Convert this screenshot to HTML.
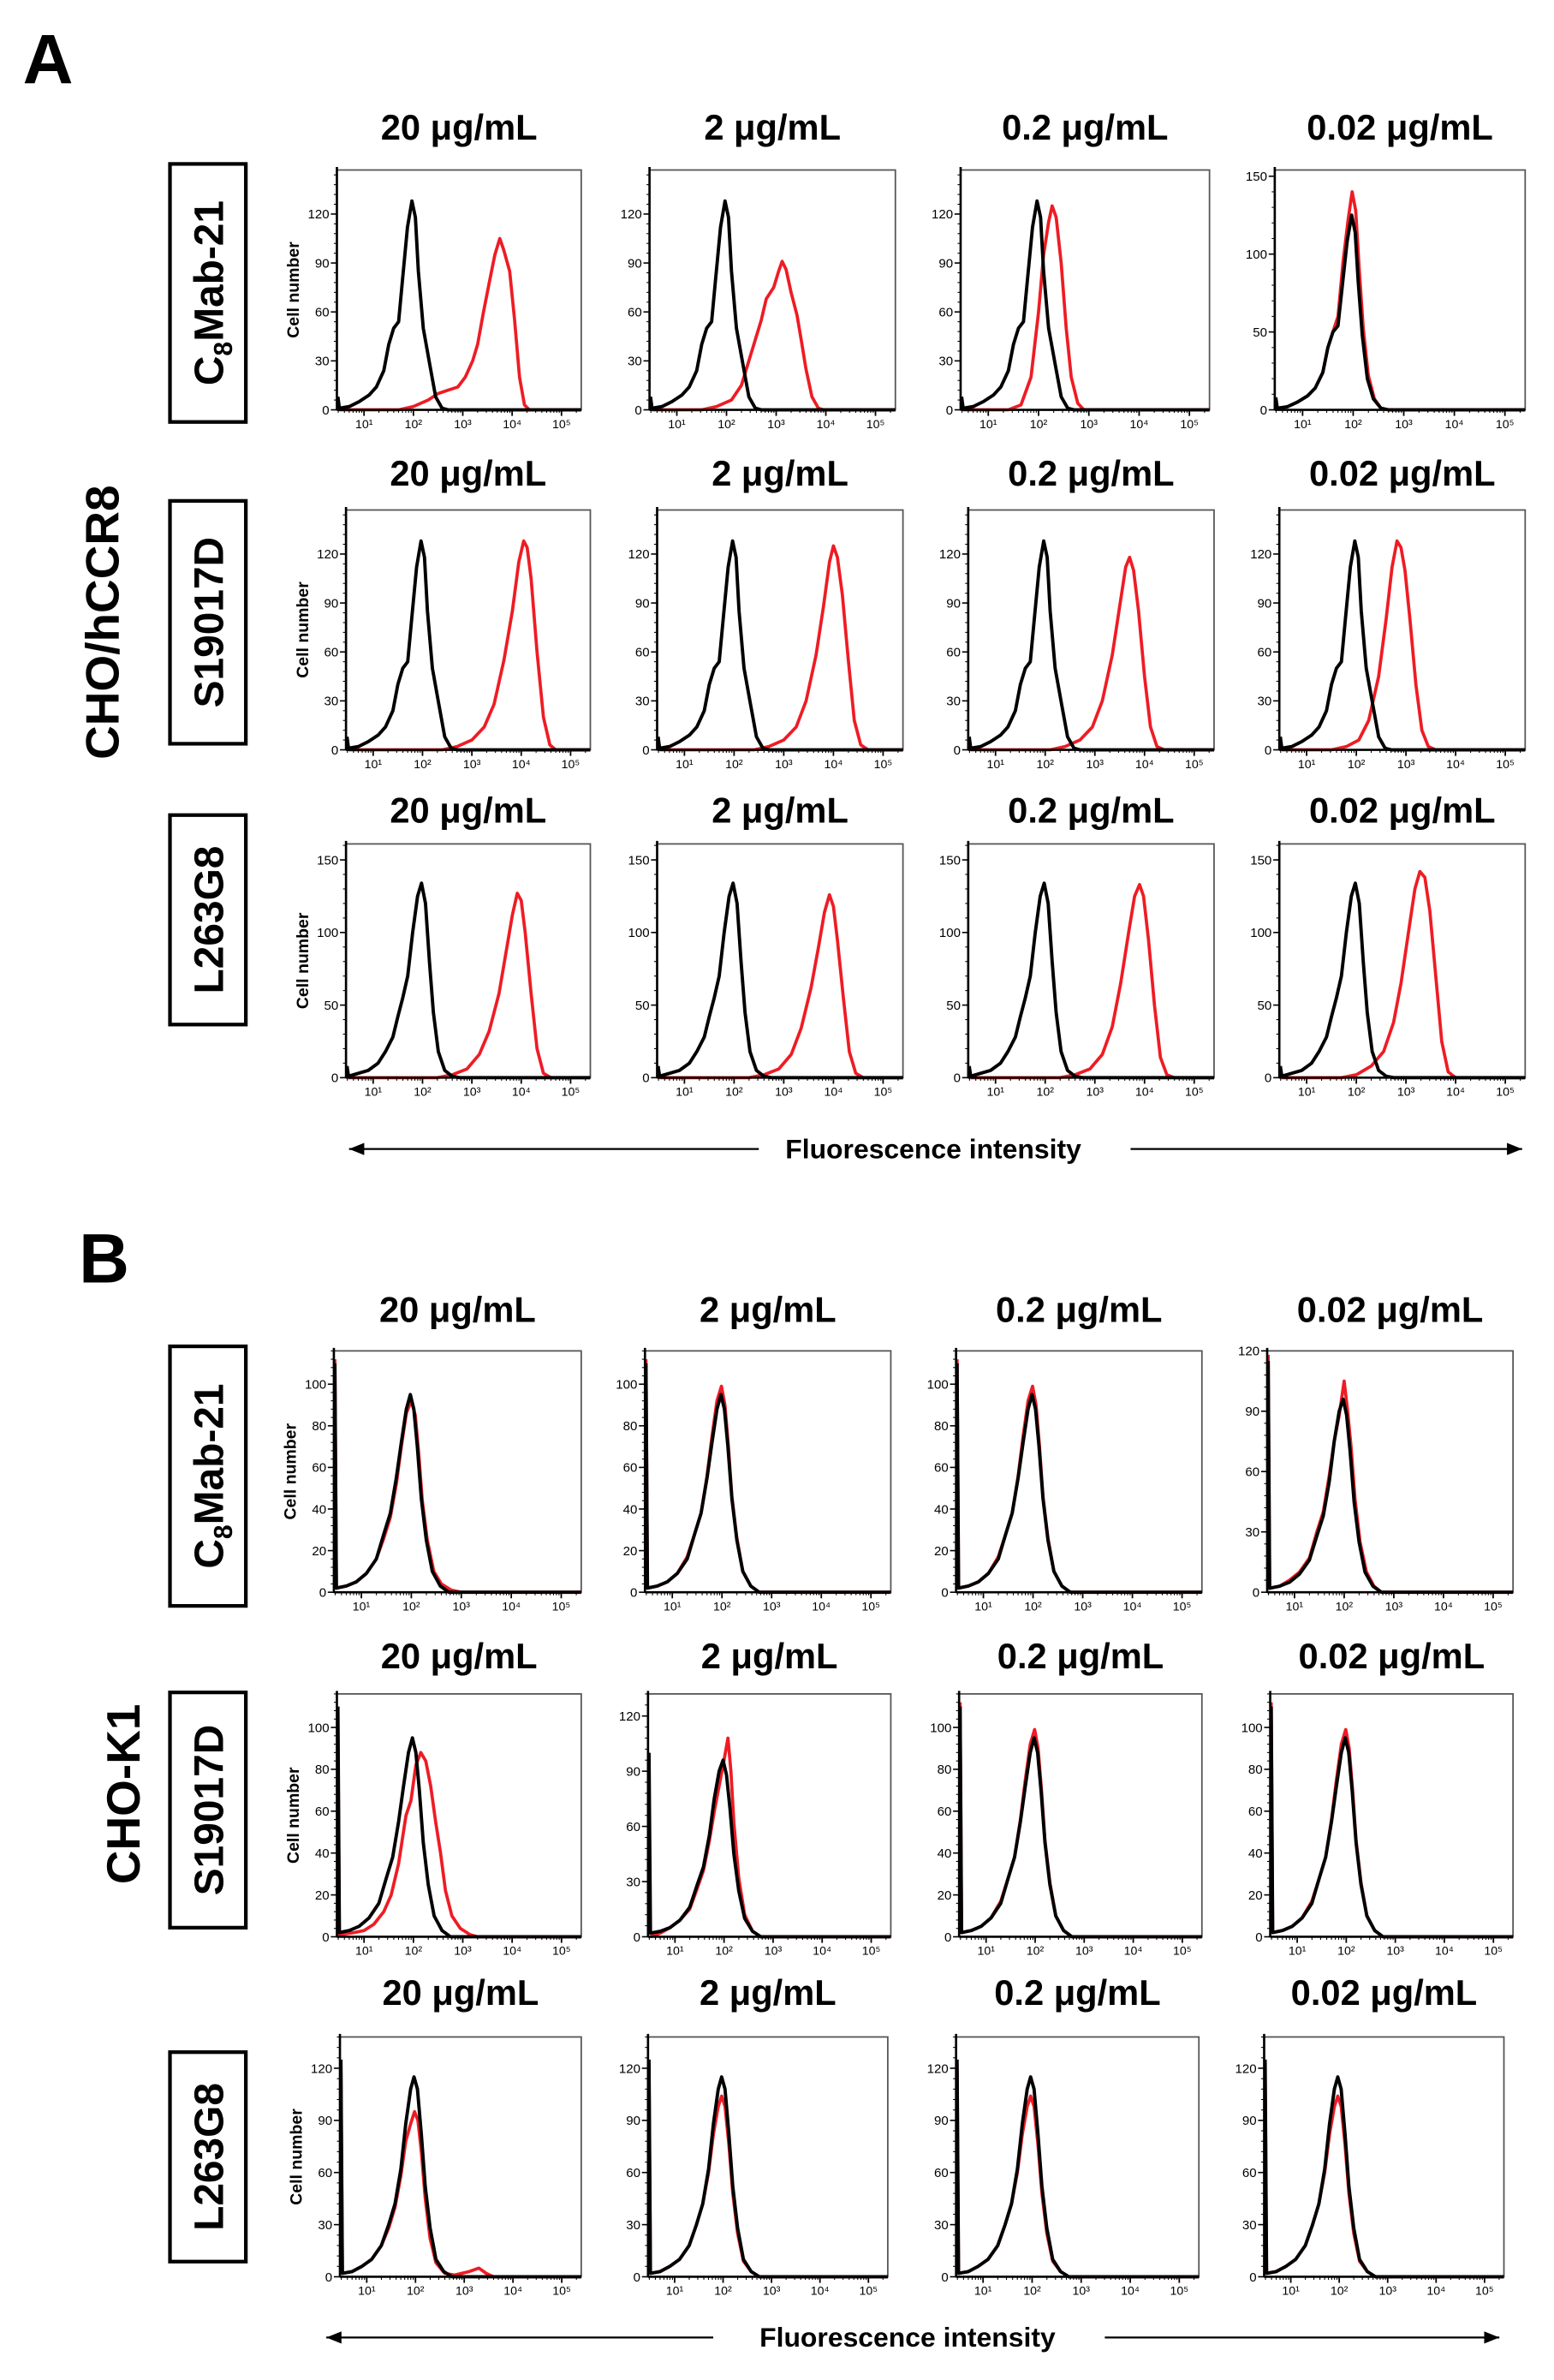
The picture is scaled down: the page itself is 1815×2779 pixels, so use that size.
<!DOCTYPE html>
<html><head><meta charset="utf-8">
<style>
html,body{margin:0;padding:0;background:#fff;}
svg{display:block;}
text{font-family:"Liberation Sans",Arial,sans-serif;}
</style></head>
<body>
<svg id="fig" width="1815" height="2779" viewBox="0 0 1024 1568" preserveAspectRatio="none" xmlns="http://www.w3.org/2000/svg">
<g id="static">
<text x="15" y="55" font-size="46" font-weight="bold">A</text>
<text x="52" y="845" font-size="46" font-weight="bold">B</text>
<text transform="translate(78,410) rotate(-90)" text-anchor="middle" font-size="31" font-weight="bold">CHO/hCCR8</text>
<text transform="translate(92,1182) rotate(-90)" text-anchor="middle" font-size="31" font-weight="bold">CHO-K1</text>
</g>
<g id="plots"></g>
</svg>
<script>
// ---- data (log10 fluorescence, cell count) ----
const xTickVals = [1, 2, 3, 4, 5];
const xTickLabels = ["10\u00B9", "10\u00B2", "10\u00B3", "10\u2074", "10\u2075"];
const titles = ["20 \u03BCg/mL", "2 \u03BCg/mL", "0.2 \u03BCg/mL", "0.02 \u03BCg/mL"];
const rowAntibodies = ["C8Mab-21", "S19017D", "L263G8"];

const ctrlA = [[0.47,8],[0.5,1],[0.7,2],[0.9,5],[1.1,9],[1.25,14],[1.4,24],[1.5,40],[1.6,50],[1.7,54],[1.78,80],[1.88,112],[1.97,128],[2.04,118],[2.1,85],[2.2,50],[2.33,28],[2.45,8],[2.58,1],[2.7,0],[5.4,0]];
const ctrlA4 = [[0.47,8],[0.5,1],[0.7,2],[0.9,5],[1.1,9],[1.25,14],[1.4,24],[1.5,40],[1.6,50],[1.7,54],[1.78,78],[1.88,108],[1.97,125],[2.04,114],[2.1,82],[2.18,48],[2.28,20],[2.4,7],[2.55,1],[2.7,0],[5.4,0]];
const ctrlA3 = [[0.47,8],[0.5,1],[0.7,3],[0.9,5],[1.1,10],[1.25,18],[1.4,28],[1.5,42],[1.6,55],[1.7,70],[1.8,100],[1.9,125],[1.98,134],[2.06,120],[2.14,80],[2.22,45],[2.32,18],[2.45,5],[2.6,1],[2.75,0],[5.4,0]];
const redA11 = [[0.5,0],[1.7,0],[2.0,2],[2.3,6],[2.5,10],[2.7,12],[2.9,14],[3.05,20],[3.2,30],[3.3,40],[3.42,60],[3.55,80],[3.65,95],[3.75,105],[3.83,98],[3.95,85],[4.05,55],[4.15,20],[4.25,3],[4.35,0],[5.4,0]];
const redA12 = [[0.5,0],[1.5,0],[1.8,2],[2.1,6],[2.3,15],[2.45,30],[2.55,40],[2.7,55],[2.8,68],[2.95,75],[3.05,85],[3.12,91],[3.2,86],[3.3,72],[3.42,58],[3.52,40],[3.6,25],[3.72,8],[3.85,1],[3.95,0],[5.4,0]];
const redA13 = [[0.5,0],[1.4,0],[1.65,3],[1.85,20],[2.0,60],[2.1,95],[2.2,115],[2.27,125],[2.35,118],[2.45,90],[2.55,50],[2.65,20],[2.78,4],[2.9,0],[5.4,0]];
const redA14 = [[0.47,6],[0.5,1],[0.7,2],[0.9,5],[1.1,9],[1.25,14],[1.4,24],[1.5,40],[1.6,50],[1.7,60],[1.8,95],[1.9,122],[1.98,140],[2.05,128],[2.12,90],[2.2,52],[2.3,22],[2.42,7],[2.55,1],[2.7,0],[5.4,0]];
const redA21 = [[0.5,0],[2.4,0],[2.7,2],[3.0,6],[3.25,14],[3.45,28],[3.65,55],[3.82,85],[3.95,115],[4.05,128],[4.12,124],[4.2,105],[4.32,60],[4.45,20],[4.58,3],[4.7,0],[5.4,0]];
const redA22 = [[0.5,0],[2.4,0],[2.7,2],[3.0,6],[3.25,14],[3.45,30],[3.65,58],[3.8,88],[3.92,115],[4.0,125],[4.08,118],[4.18,95],[4.3,55],[4.42,18],[4.55,3],[4.7,0],[5.4,0]];
const redA23 = [[0.5,0],[2.1,0],[2.4,2],[2.7,6],[2.95,14],[3.15,30],[3.35,58],[3.5,88],[3.62,112],[3.7,118],[3.78,110],[3.88,85],[4.0,45],[4.12,14],[4.25,2],[4.4,0],[5.4,0]];
const redA24 = [[0.5,0],[1.5,0],[1.8,2],[2.05,6],[2.25,18],[2.45,45],[2.6,80],[2.72,112],[2.82,128],[2.9,124],[2.98,110],[3.08,80],[3.2,40],[3.32,12],[3.45,2],[3.6,0],[5.4,0]];
const redA31 = [[0.5,0],[2.3,0],[2.6,2],[2.9,6],[3.15,16],[3.35,32],[3.55,58],[3.7,88],[3.82,112],[3.92,127],[4.0,122],[4.08,100],[4.2,58],[4.32,20],[4.45,3],[4.6,0],[5.4,0]];
const redA32 = [[0.5,0],[2.3,0],[2.6,2],[2.9,6],[3.15,16],[3.35,34],[3.55,62],[3.7,90],[3.82,114],[3.92,126],[4.0,118],[4.08,95],[4.2,55],[4.32,18],[4.45,3],[4.6,0],[5.4,0]];
const redA33 = [[0.5,0],[2.3,0],[2.6,2],[2.9,6],[3.15,16],[3.35,35],[3.52,65],[3.68,100],[3.8,125],[3.9,133],[3.98,125],[4.08,95],[4.2,50],[4.32,14],[4.45,2],[4.6,0],[5.4,0]];
const redA34 = [[0.5,0],[1.7,0],[2.0,2],[2.3,8],[2.55,18],[2.75,38],[2.9,65],[3.05,100],[3.18,130],[3.28,142],[3.38,138],[3.48,115],[3.6,70],[3.72,25],[3.85,4],[4.0,0],[5.4,0]];

const ctrlB = [[0.47,110],[0.5,2],[0.7,3],[0.9,5],[1.1,9],[1.3,16],[1.45,28],[1.58,38],[1.7,55],[1.8,72],[1.9,88],[1.98,95],[2.05,88],[2.12,70],[2.2,45],[2.3,25],[2.42,10],[2.58,3],[2.75,0],[5.4,0]];
const redB11 = [[0.47,112],[0.5,2],[0.7,3],[0.9,5],[1.1,9],[1.3,16],[1.45,26],[1.58,36],[1.7,52],[1.8,70],[1.9,86],[2.0,92],[2.08,85],[2.15,66],[2.22,44],[2.32,25],[2.45,10],[2.6,4],[2.8,1],[3.0,0],[5.4,0]];
const redB1b = [[0.47,112],[0.5,2],[0.7,3],[0.9,5],[1.1,9],[1.3,17],[1.45,28],[1.58,38],[1.7,56],[1.8,75],[1.9,92],[1.99,99],[2.06,90],[2.13,70],[2.2,46],[2.3,26],[2.42,10],[2.58,3],[2.75,0],[5.4,0]];
const ctrlB14 = [[0.47,115],[0.5,2],[0.7,3],[0.9,5],[1.1,9],[1.3,16],[1.45,28],[1.58,38],[1.7,55],[1.8,75],[1.9,90],[1.98,96],[2.05,88],[2.12,70],[2.2,45],[2.3,25],[2.42,10],[2.58,3],[2.75,0],[5.4,0]];
const redB14 = [[0.47,118],[0.5,2],[0.7,3],[0.9,6],[1.1,10],[1.3,17],[1.45,30],[1.58,40],[1.7,58],[1.8,75],[1.9,88],[2.0,105],[2.07,90],[2.14,72],[2.22,46],[2.32,25],[2.45,10],[2.6,3],[2.75,0],[5.4,0]];
const redB21 = [[0.47,100],[0.5,1],[0.8,2],[1.0,3],[1.2,6],[1.4,12],[1.55,20],[1.7,35],[1.85,58],[1.95,65],[2.05,82],[2.15,88],[2.25,84],[2.35,72],[2.45,55],[2.55,40],[2.65,22],[2.78,10],[2.95,4],[3.15,1],[3.3,0],[5.4,0]];
const ctrlB22 = [[0.47,100],[0.5,2],[0.7,3],[0.9,5],[1.1,9],[1.3,16],[1.45,28],[1.58,38],[1.7,55],[1.8,75],[1.9,90],[1.98,96],[2.05,88],[2.12,70],[2.2,45],[2.3,25],[2.42,10],[2.58,3],[2.75,0],[5.4,0]];
const redB22 = [[0.5,0],[0.7,2],[0.9,5],[1.1,9],[1.3,15],[1.45,26],[1.58,36],[1.7,52],[1.8,68],[1.9,82],[2.0,96],[2.08,108],[2.14,90],[2.2,62],[2.3,32],[2.42,12],[2.58,3],[2.75,0],[5.4,0]];
const ctrlB3 = [[0.47,125],[0.5,2],[0.7,3],[0.9,6],[1.1,10],[1.3,18],[1.45,30],[1.58,42],[1.7,62],[1.8,88],[1.9,108],[1.97,115],[2.04,108],[2.12,82],[2.2,52],[2.3,28],[2.42,10],[2.58,3],[2.75,0],[5.4,0]];
const redB31 = [[0.47,120],[0.5,2],[0.7,3],[0.9,6],[1.1,10],[1.3,18],[1.45,28],[1.58,40],[1.7,58],[1.8,78],[1.9,88],[1.98,95],[2.05,90],[2.12,72],[2.2,45],[2.3,22],[2.42,8],[2.6,2],[2.8,1],[3.1,3],[3.3,5],[3.45,2],[3.6,0],[5.4,0]];
const redB3 = [[0.47,120],[0.5,2],[0.7,3],[0.9,6],[1.1,10],[1.3,18],[1.45,30],[1.58,42],[1.7,60],[1.8,82],[1.9,98],[1.97,104],[2.04,98],[2.12,76],[2.2,48],[2.3,25],[2.42,9],[2.58,3],[2.75,0],[5.4,0]];

const yTicks120 = [0, 30, 60, 90, 120];
const yTicks150 = [0, 50, 100, 150];
const yTicks100 = [0, 20, 40, 60, 80, 100];

// ---- layout (geometry only) ----
const X_MIN = 0.45, X_MAX = 5.4;
const layoutRows = [
  {top:112, bot:270, titleY:92, cols:[[222,383],[428,590],[633,797],[840,1005]], box:[112,108,50,170], label:"C8Mab-21"},
  {top:336, bot:494, titleY:320, cols:[[228,389],[433,595],[638,800],[843,1005]], box:[112,330,50,160], label:"S19017D"},
  {top:556, bot:710, titleY:542, cols:[[228,389],[433,595],[638,800],[843,1005]], box:[112,537,50,138], label:"L263G8"},
  {top:890, bot:1049, titleY:871, cols:[[220,383],[425,587],[630,792],[835,997]], box:[112,887,50,171], label:"C8Mab-21"},
  {top:1116, bot:1276, titleY:1099, cols:[[222,383],[427,587],[632,792],[837,997]], box:[112,1115,50,155], label:"S19017D"},
  {top:1342, bot:1500, titleY:1321, cols:[[224,383],[427,585],[630,790],[833,991]], box:[112,1352,50,138], label:"L263G8"}
];
const panelYMax = [[147,147,147,154],[147,147,147,147],[161,161,161,161],[116,116,116,120],[116,132,116,116],[138,138,138,138]];
const panelYTicks = [[yTicks120,yTicks120,yTicks120,yTicks150],[yTicks120,yTicks120,yTicks120,yTicks120],[yTicks150,yTicks150,yTicks150,yTicks150],[yTicks100,yTicks100,yTicks100,yTicks120],[yTicks100,yTicks120,yTicks100,yTicks100],[yTicks120,yTicks120,yTicks120,yTicks120]];
const panelBlack = [[ctrlA,ctrlA,ctrlA,ctrlA4],[ctrlA,ctrlA,ctrlA,ctrlA],[ctrlA3,ctrlA3,ctrlA3,ctrlA3],[ctrlB,ctrlB,ctrlB,ctrlB14],[ctrlB,ctrlB22,ctrlB,ctrlB],[ctrlB3,ctrlB3,ctrlB3,ctrlB3]];
const panelRed = [[redA11,redA12,redA13,redA14],[redA21,redA22,redA23,redA24],[redA31,redA32,redA33,redA34],[redB11,redB1b,redB1b,redB14],[redB21,redB22,redB1b,redB1b],[redB31,redB3,redB3,redB3]];

const NS = "http://www.w3.org/2000/svg";
const root = document.getElementById('plots');
function mk(tag, attrs, parent){const e=document.createElementNS(NS,tag);for(const k in attrs)e.setAttribute(k,attrs[k]);(parent||root).appendChild(e);return e;}

layoutRows.forEach((row, r) => {
  const [bx,by,bw,bh] = row.box;
  const rect = mk('rect',{x:bx,y:by,width:bw,height:bh,fill:'none',stroke:'#000','stroke-width':2.4});
  
  
  const lt = mk('text',{transform:`translate(${bx+bw/2+10},${by+bh/2}) rotate(-90)`,'text-anchor':'middle','font-size':27,'font-weight':'bold'});
  
  
  if(row.label==="C8Mab-21"){
    lt.appendChild(document.createTextNode('C'));
    const sub=mk('tspan',{'font-size':17,dy:6},lt); sub.textContent='8';
    const rest=mk('tspan',{dy:-6},lt); rest.textContent='Mab-21';
  } else lt.textContent=row.label;

  row.cols.forEach((c, ci) => {
    const x0=c[0], x1=c[1], top=row.top, bot=row.bot;
    const ymax = panelYMax[r][ci];
    const sx = v => x0 + (v - X_MIN)/(X_MAX - X_MIN)*(x1-x0);
    const sy = v => bot - v/ymax*(bot-top);
    const g = mk('g',{});
    
    
    const t = mk('text',{x:(x0+x1)/2,y:row.titleY,'text-anchor':'middle','font-size':23.5,'font-weight':'bold'},g);
    
    
    t.textContent = titles[ci];
    const fr = mk('rect',{x:x0,y:top,width:x1-x0,height:bot-top,fill:'none',stroke:'#555','stroke-width':1},g);
    
    
    [[panelRed[r][ci],'#ee1c24',2.1,'red-histogram-antibody'],[panelBlack[r][ci],'#000',2.2,'black-histogram-control']].forEach(([arr,col,w,nm])=>{
      const d = arr.map((p,i)=>(i?'L':'M')+sx(p[0]).toFixed(2)+','+sy(p[1]).toFixed(2)).join(' ');
      const p = mk('path',{d:d,fill:'none',stroke:col,'stroke-width':w,'stroke-linejoin':'round'},g);
      
      
    });
    const ax = mk('line',{x1:x0,y1:top-2,x2:x0,y2:bot,stroke:'#000','stroke-width':1.5},g);
    
    
    const axx = mk('line',{x1:x0,y1:bot,x2:x1,y2:bot,stroke:'#000','stroke-width':1.5},g);
    
    
    const yt = panelYTicks[r][ci];
    const step = yt[1]-yt[0];
    for(let v=0; v<=ymax; v+=step/5){
      mk('line',{x1:x0-2,y1:sy(v),x2:x0,y2:sy(v),stroke:'#000','stroke-width':0.6},g);
    }
    yt.forEach(v=>{
      if(v>ymax) return;
      mk('line',{x1:x0-4,y1:sy(v),x2:x0,y2:sy(v),stroke:'#000','stroke-width':0.9},g);
      const tl = mk('text',{x:x0-5,y:sy(v)+3,'text-anchor':'end','font-size':8.5},g);
      
      
      tl.textContent = v;
    });
    for(let dec=0; dec<6; dec++){
      for(let m=1; m<10; m++){
        const lv = dec + Math.log10(m);
        if(lv<X_MIN||lv>X_MAX) continue;
        const len = m===1?4:2;
        mk('line',{x1:sx(lv),y1:bot,x2:sx(lv),y2:bot+len,stroke:'#000','stroke-width':m===1?1:0.6},g);
      }
    }
    xTickVals.forEach((v,i)=>{
      const tl = mk('text',{x:sx(v),y:bot+12,'text-anchor':'middle','font-size':8},g);
      
      
      tl.textContent = xTickLabels[i];
    });
    if(ci===0){
      const yl = mk('text',{transform:`translate(${x0-25},${(top+bot)/2}) rotate(-90)`,'text-anchor':'middle','font-size':11,'font-weight':'bold'},g);
      
      
      yl.textContent='Cell number';
    }
  });
});

[[757,230,500,615,745,1003],[1540,215,470,598,728,988]].forEach(a=>{
  const [y,l1,l2,tc,r1,r2]=a;
  const g = mk('g',{});
  
  
  mk('line',{x1:l1,y1:y,x2:l2,y2:y,stroke:'#000','stroke-width':1.3},g);
  mk('path',{d:`M${l1},${y} l10,-4 l0,8 z`,fill:'#000'},g);
  mk('line',{x1:r1,y1:y,x2:r2,y2:y,stroke:'#000','stroke-width':1.3},g);
  mk('path',{d:`M${r2},${y} l-10,-4 l0,8 z`,fill:'#000'},g);
  const t = mk('text',{x:tc,y:y+6,'text-anchor':'middle','font-size':18,'font-weight':'bold'},g);
  
  
  t.textContent='Fluorescence intensity';
});
</script>
</body></html>
